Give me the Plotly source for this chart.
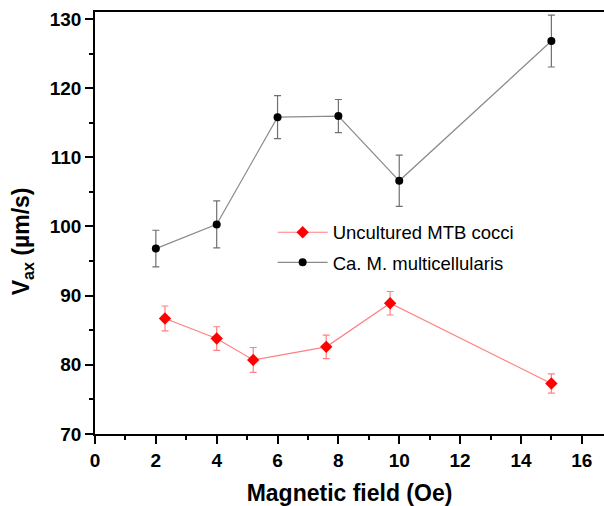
import plotly.graph_objects as go

# Data
cocci_x = [2.3, 4.0, 5.2, 7.6, 9.7, 15.0]
cocci_y = [86.7, 83.8, 80.7, 82.6, 88.9, 77.3]
cocci_err = [1.8, 1.7, 1.8, 1.7, 1.7, 1.4]

multi_x = [2, 4, 6, 8, 10, 15]
multi_y = [96.8, 100.3, 115.8, 115.95, 106.6, 126.8]
multi_err = [2.65, 3.4, 3.1, 2.4, 3.7, 3.75]

x_ticks = [0, 2, 4, 6, 8, 10, 12, 14, 16]
y_ticks = [70, 80, 90, 100, 110, 120, 130]

FONT = "Liberation Sans, Arial, sans-serif"

fig = go.Figure()
fig.add_trace(go.Scatter(
    x=cocci_x, y=cocci_y, name="Uncultured MTB cocci", legendgroup="a",
    mode="lines+markers",
    line=dict(color="#ff8080", width=1.2),
    marker=dict(symbol="diamond", size=9.5, color="#ff0000"),
    error_y=dict(type="data", array=cocci_err, color="#ff8080", thickness=1.2, width=3.5),
))
fig.add_trace(go.Scatter(
    x=multi_x, y=multi_y, name="Ca. M. multicellularis", legendgroup="b",
    mode="lines+markers",
    line=dict(color="#8a8a8a", width=1.2),
    marker=dict(symbol="circle", size=8, color="#000000"),
    error_y=dict(type="data", array=multi_err, color="#707070", thickness=1.2, width=3.5),
))

fig.update_layout(
    width=604, height=506,
    margin=dict(l=95, r=0, t=12, b=72, autoexpand=False),
    paper_bgcolor="white", plot_bgcolor="white",
    font=dict(family=FONT, color="black"),
    showlegend=True,
    legend=dict(
        x=0.349, y=0.522, xanchor="left", yanchor="top",
        font=dict(size=18.5, family=FONT, color="black"),
        bgcolor="rgba(0,0,0,0)", itemwidth=50,
        tracegroupgap=3, traceorder="grouped",
    ),
    xaxis=dict(
        range=[0, 16.73], tickvals=x_ticks, ticktext=[str(v) for v in x_ticks],
        showline=True, linecolor="black", linewidth=1.6, mirror=True,
        ticks="outside", ticklen=8, tickwidth=1.5, tickcolor="black",
        minor=dict(dtick=1, ticks="outside", ticklen=4, tickwidth=1.5, tickcolor="black"),
        showgrid=False, zeroline=False, automargin=False,
        tickfont=dict(size=19, family=FONT, color="black", weight="bold"),
        title=dict(text="<b>Magnetic field (Oe)</b>", font=dict(size=23, family=FONT, color="black"), standoff=16),
    ),
    yaxis=dict(
        range=[70, 131], tickvals=y_ticks, ticktext=[str(v) for v in y_ticks],
        showline=True, linecolor="black", linewidth=1.6, mirror=False,
        ticks="outside", ticklen=8, tickwidth=1.5, tickcolor="black",
        minor=dict(dtick=5, ticks="outside", ticklen=4, tickwidth=1.5, tickcolor="black"),
        showgrid=False, zeroline=False, automargin=False,
        tickfont=dict(size=19, family=FONT, color="black", weight="bold"),
    ),
    annotations=[dict(
        text="<b>V<sub>ax</sub> (µm/s)</b>", textangle=-90,
        xref="paper", yref="paper", x=-0.143, y=0.457,
        xanchor="center", yanchor="middle", showarrow=False,
        font=dict(size=23, family=FONT, color="black"),
    )],
)

fig.write_html(
    "out.html",
    config={"displayModeBar": False},
    post_script="document.body.style.margin='0';document.body.style.overflow='hidden';",
)
